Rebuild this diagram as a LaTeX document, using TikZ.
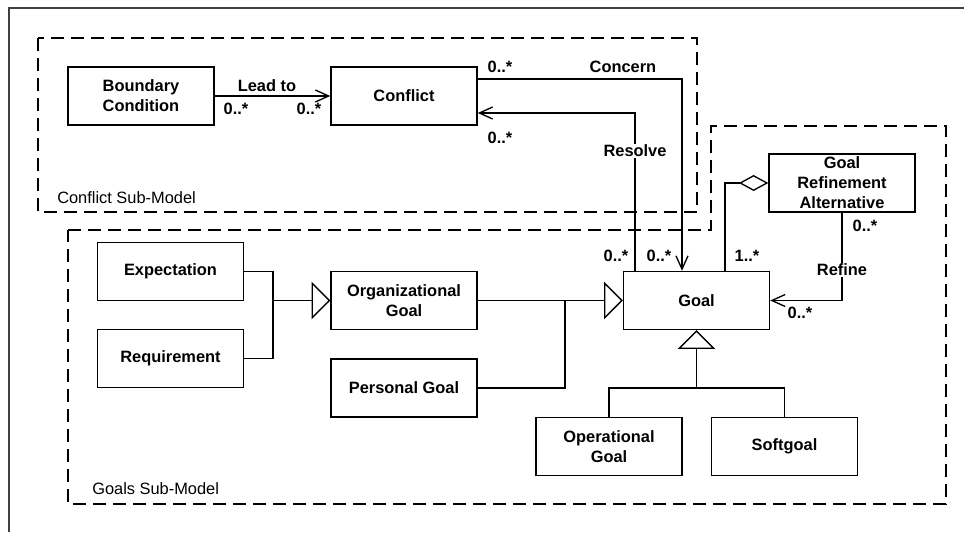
\documentclass[tikz,border=0pt]{standalone}
\usepackage{fontspec}
\setmainfont{Liberation Sans}
\usetikzlibrary{positioning,arrows.meta}

\begin{document}
\begin{tikzpicture}[x=0.75pt, y=-0.75pt,
        cls/.style={
            draw, line width=1.1pt, minimum width=109.5pt,
            minimum height=43.5pt, align=center, inner sep=0.5pt,
            font=\fontsize{12.3}{15}\selectfont\bfseries
        },
        mult/.style={font=\fontsize{12.3}{15}\selectfont\bfseries, inner sep=1pt},
        rolename/.style={mult, fill=white},
        submodel/.style={draw, line width=2.2pt, dash pattern=on 9.75pt off 5.25pt},
        subname/.style={anchor=west, inner sep=0pt, font=\fontsize{12.3}{15}\selectfont},
        link/.style={line width=1pt},
        assoc/.style={link, -{Straight Barb[length=10pt,width=9pt]}},
        gen/.style={link, -{Triangle[fill=white,length=14pt,width=28pt]}},
        agg/.style={link, {Diamond[fill=white,length=22pt,width=12pt]}-}
    ]
        \useasboundingbox (0,0) rectangle (964,532);
        \draw[line width=1.1pt, black!75] (964,8) -- (9,8) -- (9,532);

        % sub-models
        \draw[submodel] (38,38) rectangle (697,212);
        \draw[submodel] (68,230) -- (711,230) -- (711,126) -- (946,126)
            -- (946,504) -- (68,504) -- cycle;
        \node[subname] (conflictmodel) at (57,198) {Conflict Sub-Model};
        \node[subname] (goalsmodel) at (92,489) {Goals Sub-Model};

        % classes
        \node[cls] (bc) at (141,96) {Boundary\\Condition};
        \node[cls] (conflict) at (404,96) {Conflict};
        \node[cls] (gra) at (842,183) {Goal\\Refinement\\Alternative};
        \node[cls] (expect) at (170.5,271.5) {Expectation};
        \node[cls] (req) at (170.5,358.5) {Requirement};
        \node[cls] (org) at (404,300.5) {Organizational\\Goal};
        \node[cls] (pers) at (404,388) {Personal Goal};
        \node[cls] (goal) at (696.5,300.5) {Goal};
        \node[cls] (opgoal) at (609,446.5) {Operational\\Goal};
        \node[cls] (soft) at (784.5,446.5) {Softgoal};

        % associations
        \draw[assoc] (bc) -- (conflict);
        \node[mult] (leadto) at (267,86) {Lead to};
        \node[mult] (bcmult) at (236,109) {0..*};
        \node[mult] (cfmult) at (309,109) {0..*};

        \draw[assoc] (conflict.east |- 0,79) -| (682,0 |- goal.north);
        \node[mult] (concernsrc) at (500,67) {0..*};
        \node[mult] (concern) at (623,67) {Concern};
        \node[mult] (concerndst) at (659,256) {0..*};

        \draw[assoc] (635,0 |- goal.north) |- (conflict.east |- 0,113);
        \node[rolename] (resolve) at (635,151) {Resolve};
        \node[mult] (resolvedst) at (500,138) {0..*};
        \node[mult] (resolvesrc) at (616,256) {0..*};

        \draw[agg] (gra.west) -| (725,0 |- goal.north);
        \node[mult] (aggmult) at (747,256) {1..*};

        \draw[assoc] (gra.south) |- (goal.east);
        \node[rolename] (refine) at (842,270) {Refine};
        \node[mult] (refinesrc) at (865,226) {0..*};
        \node[mult] (refinedst) at (800,313) {0..*};

        % generalizations
        \draw[link] (expect.east) -| (273,0 |- req.east) -- (req.east);
        \draw[gen] (273,0 |- org.west) -- (org.west);
        \draw[gen] (org.east) -- (goal.west);
        \draw[link] (pers.east) -| (565,0 |- goal.west);
        \draw[link] (opgoal.north) |- (soft.north |- 0,388) -- (soft.north);
        \draw[gen] (goal.south |- 0,388) -- (goal.south);
    \end{tikzpicture}
\end{document}
